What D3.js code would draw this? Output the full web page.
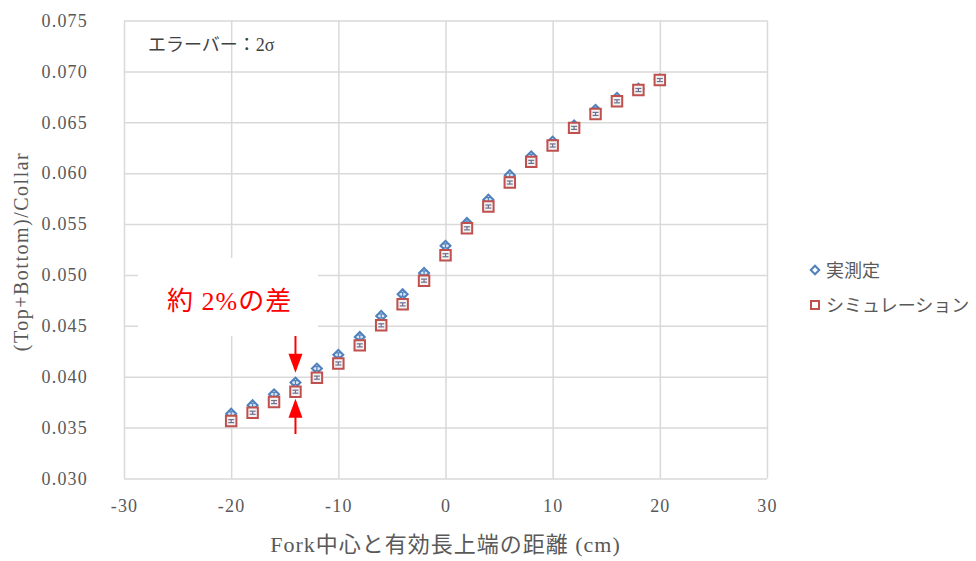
<!DOCTYPE html>
<html>
<head>
<meta charset="utf-8">
<script src="https://cdn.jsdelivr.net/npm/d3@7"></script>
<style>
  body { margin: 0; background: #fff; }
  svg { display: block; }
</style>
</head>
<body>
<div id="chart"></div>
<script>
// distance between fork centre and effective-length top (cm)
const positions = [-20, -18, -16, -14, -12, -10, -8, -6, -4, -2, 0, 2, 4, 6, 8, 10, 12, 14, 16, 18, 20];
const measured = [0.03636, 0.0372, 0.03827, 0.03942, 0.0408, 0.04215, 0.0439, 0.04597, 0.0481, 0.0502, 0.05286,
  0.0551, 0.0574, 0.0598, 0.06165, 0.0631, 0.06468, 0.06622, 0.0674, 0.0683, 0.0692];
const simulated = [0.03564, 0.03646, 0.03751, 0.03853, 0.03991, 0.0413, 0.04308, 0.04505, 0.04711, 0.04944, 0.05194,
  0.05458, 0.05672, 0.05908, 0.06111, 0.06272, 0.06445, 0.06582, 0.06706, 0.06817, 0.06915];
const measuredErr = positions.map(() => 0.0002);   // 2 sigma, tiny
const simulatedErr = positions.map(() => 0.00015);
const xTicks = [-30, -20, -10, 0, 10, 20, 30];
const yTicks = [0.030, 0.035, 0.040, 0.045, 0.050, 0.055, 0.060, 0.065, 0.070, 0.075];
const seriesNames = ['実測定', 'シミュレーション'];

const width = 976, height = 561;
const serif = '"Liberation Serif", "Noto Sans CJK JP", serif';
const textColor = '#595959';
const blue = '#4F81BD', red = '#C0504D';

const svg = d3.select('#chart').append('svg')
  .attr('width', width)
  .attr('height', height);

const x = d3.scaleLinear().domain([-30, 30]).range([124, 767]);
const y = d3.scaleLinear().domain([0.030, 0.075]).range([478.5, 20.5]);

// axes + gridlines
const xAxis = svg.append('g')
  .attr('transform', `translate(0,${y(0.030)})`)
  .call(d3.axisBottom(x).tickValues(xTicks).tickFormat(d => String(d))
    .tickSizeInner(-(y(0.030) - y(0.075))).tickSizeOuter(0).tickPadding(21));
const yAxis = svg.append('g')
  .attr('transform', `translate(${x(-30)},0)`)
  .call(d3.axisLeft(y).tickValues(yTicks).tickFormat(d3.format('.3f'))
    .tickSizeInner(-(x(30) - x(-30))).tickSizeOuter(0).tickPadding(36));

[xAxis, yAxis].forEach(g => {
  g.select('.domain').remove();
  g.selectAll('.tick line').attr('stroke', '#d9d9d9').attr('stroke-width', 1.5);
  g.selectAll('.tick text')
    .attr('fill', textColor)
    .style('font-family', serif)
    .style('font-size', '18px')
    .style('letter-spacing', '1.2px');
});

// white box behind the red note
svg.append('rect')
  .attr('x', 138).attr('y', 258)
  .attr('width', 180).attr('height', 78)
  .attr('fill', '#fff');

// markers: measured first, simulation on top
const diamond = d3.symbol(d3.symbolSquare, 50);
const square = d3.symbol(d3.symbolSquare, 110);

const errBars = (vals, errs, color) => {
  const g = svg.append('g').attr('stroke', color).attr('stroke-width', 1.2);
  positions.forEach((p, i) => {
    const cx = x(p), top = y(vals[i] + errs[i]), bot = y(vals[i] - errs[i]);
    g.append('line').attr('x1', cx).attr('x2', cx).attr('y1', top).attr('y2', bot);
    g.append('line').attr('x1', cx - 3).attr('x2', cx + 3).attr('y1', top).attr('y2', top);
    g.append('line').attr('x1', cx - 3).attr('x2', cx + 3).attr('y1', bot).attr('y2', bot);
  });
};

svg.append('g').selectAll('path')
  .data(positions)
  .enter()
  .append('path')
  .attr('d', diamond)
  .attr('transform', (d, i) => `translate(${x(d)},${y(measured[i])}) rotate(45)`)
  .attr('fill', '#dbe5f1')
  .attr('stroke', blue)
  .attr('stroke-width', 2);
errBars(measured, measuredErr, blue);

svg.append('g').selectAll('path')
  .data(positions)
  .enter()
  .append('path')
  .attr('d', square)
  .attr('transform', (d, i) => `translate(${x(d)},${y(simulated[i])})`)
  .attr('fill', '#f2f2f2')
  .attr('stroke', red)
  .attr('stroke-width', 2);
errBars(simulated, simulatedErr, '#6f6f8f');

// red arrows at -14 cm
const ai = positions.indexOf(-14);
const ax = x(-14);
const downTip = y(measured[ai]) - 10;
const upTip = y(simulated[ai]) + 7;
const arrows = svg.append('g').attr('fill', '#ff0000').attr('stroke', '#ff0000');
arrows.append('line').attr('x1', ax).attr('x2', ax).attr('y1', 336).attr('y2', downTip - 15).attr('stroke-width', 2);
arrows.append('path').attr('stroke', 'none')
  .attr('d', `M${ax - 7},${downTip - 19}L${ax + 7},${downTip - 19}L${ax},${downTip}Z`);
arrows.append('line').attr('x1', ax).attr('x2', ax).attr('y1', upTip + 15).attr('y2', 434).attr('stroke-width', 2);
arrows.append('path').attr('stroke', 'none')
  .attr('d', `M${ax - 7},${upTip + 19}L${ax + 7},${upTip + 19}L${ax},${upTip}Z`);

// texts
svg.append('text')
  .attr('x', 167).attr('y', 310)
  .attr('fill', '#ff0000')
  .style('font-family', serif)
  .style('font-size', '26px')
  .style('letter-spacing', '1px')
  .text('約 2%の差');

svg.append('text')
  .attr('x', 148).attr('y', 51)
  .attr('fill', '#404040')
  .style('font-family', serif)
  .style('font-size', '18px')
  .text('エラーバー：2σ');

svg.append('text')
  .attr('transform', `translate(28,${(y(0.030) + y(0.075)) / 2 + 2}) rotate(-90)`)
  .attr('text-anchor', 'middle')
  .attr('fill', textColor)
  .style('font-family', serif)
  .style('font-size', '20px')
  .style('letter-spacing', '1.5px')
  .text('(Top+Bottom)/Collar');

svg.append('text')
  .attr('x', (x(-30) + x(30)) / 2).attr('y', 552)
  .attr('text-anchor', 'middle')
  .attr('fill', textColor)
  .style('font-family', serif)
  .style('font-size', '22px')
  .style('letter-spacing', '1px')
  .text('Fork中心と有効長上端の距離 (cm)');

// legend
const legend = svg.append('g').attr('transform', 'translate(815,270)');
legend.append('path').attr('d', d3.symbol(d3.symbolSquare, 36))
  .attr('transform', 'rotate(45)')
  .attr('fill', '#fff').attr('stroke', blue).attr('stroke-width', 2);
legend.append('path').attr('d', d3.symbol(d3.symbolSquare, 64))
  .attr('transform', 'translate(0,35)')
  .attr('fill', '#fff').attr('stroke', red).attr('stroke-width', 2);
legend.selectAll('text')
  .data(seriesNames)
  .enter()
  .append('text')
  .attr('x', 11)
  .attr('y', (d, i) => i * 35 + 7)
  .attr('fill', textColor)
  .style('font-family', serif)
  .style('font-size', '18px')
  .text(d => d);
</script>
</body>
</html>
